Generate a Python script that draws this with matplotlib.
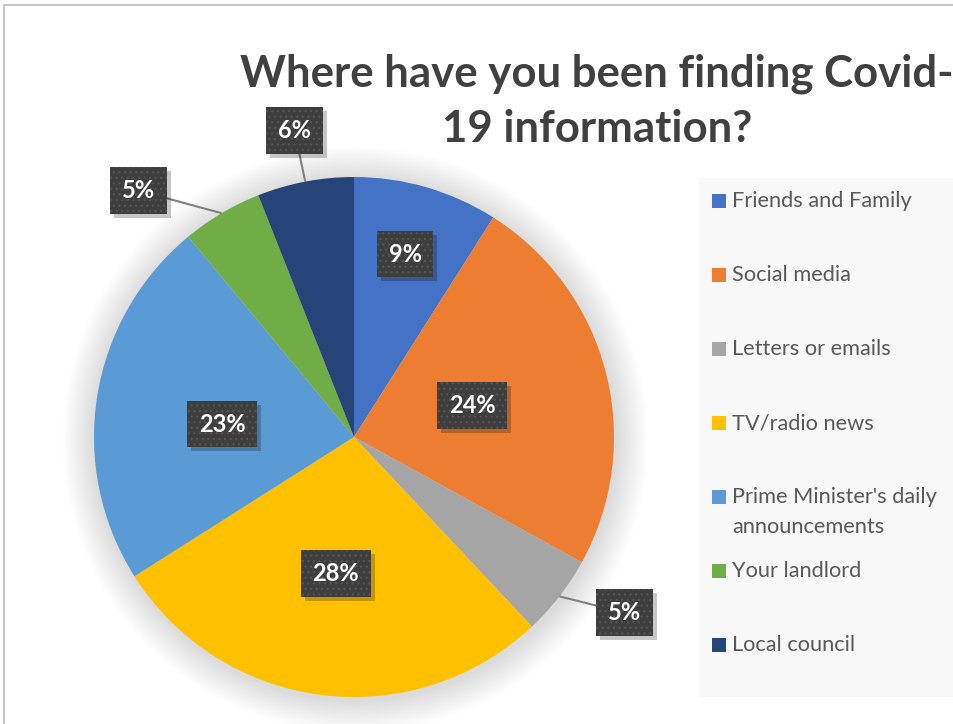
import matplotlib
matplotlib.use("Agg")
import matplotlib.pyplot as plt
from matplotlib.patches import Rectangle, Circle
import numpy as np

# Survey answers: where people got their Covid-19 information
categories = ['Friends and Family', 'Social media', 'Letters or emails', 'TV/radio news',
              "Prime Minister's daily\nannouncements", 'Your landlord', 'Local council']
shares = [9, 24, 5, 28, 23, 5, 6]
colors = ['#4472C4', '#ED7D31', '#A5A5A5', '#FFC000', '#5B9BD5', '#70AD47', '#264478']

# data label placement: radius (1 = rim) and a nudge in degrees (clockwise from top)
label_r = [0.73, 0.47, 1.24, 0.53, 0.51, 1.26, 1.20]
label_nudge = [-0.6, -0.6, -4.8, 0.4, -3.4, -10.6, -0.2]

W, H = 954, 724
fig = plt.figure(figsize=(W / 100, H / 100), dpi=100)
plt.rcParams['font.family'] = ['Lato', 'DejaVu Sans']
plt.rcParams['hatch.linewidth'] = 0.9


def fx(x):
    return x / W


def fy(y):
    return 1 - y / H


# chart frame, runs off the right and bottom edges
fig.patches.append(Rectangle((fx(4), fy(H + 20)), fx(W + 20), (H + 15) / H,
                             transform=fig.transFigure, fc='white', ec='#C8C8C8', lw=1.5,
                             zorder=-5))

# pie axes: centre (354, 437) px, radius 260 px
R = 260
k = 1.4
cx, cy = 354, 437
ax = fig.add_axes([fx(cx - k * R), (H - cy - k * R) / H, 2 * k * R / W, 2 * k * R / H])
ax.set_zorder(2)

# soft glow behind the pie
for i in range(18):
    ax.add_patch(Circle((0.005, -0.01), 1.0 + 0.007 * (i + 1), fc='black', ec='none',
                        alpha=0.0075, zorder=0))

wedges, _ = ax.pie(shares, colors=colors, startangle=90, counterclock=False,
                   wedgeprops=dict(linewidth=0, zorder=2))
ax.set_xlim(-k, k)
ax.set_ylim(-k, k)
ax.set_aspect('equal')
ax.axis('off')

cum = np.cumsum([0] + shares)
total = float(sum(shares))
labels = []
for i, val in enumerate(shares):
    mid = (cum[i] + val / 2) / total * 360
    th = np.radians(mid + label_nudge[i])
    lx, ly = label_r[i] * np.sin(th), label_r[i] * np.cos(th)
    if label_r[i] > 1:
        ex, ey = np.sin(np.radians(mid)), np.cos(np.radians(mid))
        ax.plot([ex, lx], [ey, ly], color='#808080', lw=1.5, zorder=3, solid_capstyle='butt')
    t = ax.text(lx, ly, f'{val}%', ha='center', va='center', color='white',
                fontsize=17, fontweight='bold', zorder=5,
                bbox=dict(boxstyle='square,pad=0.5', lw=0, fc='#3E3E3E', ec='#545454',
                          hatch='...'))
    labels.append(t)

# drop shadow under each label box, placed once the boxes have a size
fig.canvas.draw()
for t in labels:
    bb = t.get_bbox_patch().get_window_extent()
    ax.add_patch(Rectangle((bb.x0 + 4, bb.y0 - 4), bb.width, bb.height, transform=None,
                           fc='black', alpha=0.22, ec='none', zorder=4))

# title, centred on the full chart area
title_kw = dict(ha='center', va='baseline', fontsize=31.5, fontweight='bold', color='#404040')
fig.text(fx(597), fy(87), 'Where have you been finding Covid-', **title_kw)
fig.text(fx(597), fy(142), '19 information?', **title_kw)

# legend panel
fig.patches.append(Rectangle((fx(699), fy(697)), fx(W + 20 - 699), (697 - 178) / H,
                             transform=fig.transFigure, fc='#F8F8F8', ec='none', zorder=-4))
for i, (name, c) in enumerate(zip(categories, colors)):
    y = 201 + 74 * i
    fig.patches.append(Rectangle((fx(712), fy(y + 7)), fx(14), 14 / H,
                                 transform=fig.transFigure, fc=c, ec='none'))
    for j, line in enumerate(name.split('\n')):
        fig.text(fx(732), fy(y + 30 * j), line, ha='left', va='center', fontsize=15.7,
                 color='#595959')

fig.savefig('out.png', dpi=100)
